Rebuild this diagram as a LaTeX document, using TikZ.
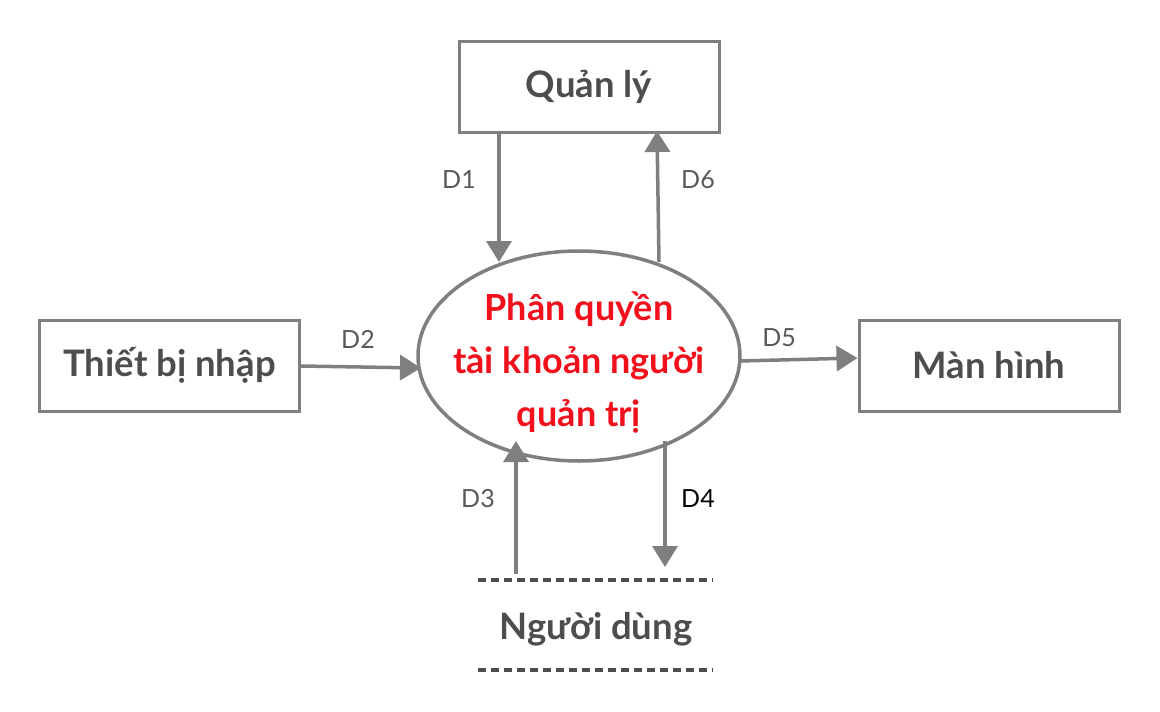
\documentclass[tikz,border=0pt]{standalone}
\usepackage{fontspec}
\setmainfont{Lato}
\usetikzlibrary{arrows.meta,shapes.geometric}
\definecolor{lg}{HTML}{7F7F7F}
\definecolor{tg}{HTML}{4D4D4D}
\definecolor{lb}{HTML}{595959}
\definecolor{rd}{HTML}{F2101C}
\tikzset{
  box/.style={draw=lg,line width=3pt,minimum width=260pt,minimum height=91pt,inner sep=0pt,
    text=tg,font=\fontsize{36.5}{42}\selectfont\bfseries},
  arr/.style={draw=lg,line width=3.5pt,-{Triangle[width=25pt,length=21pt]}},
  lbl/.style={text=lb,font=\fontsize{25}{30}\selectfont},
  dsh/.style={draw=tg,line width=3.5pt,dash pattern=on 8.5pt off 4.5pt}
}
\begin{document}
\begin{tikzpicture}[x=1pt,y=-1pt]
\useasboundingbox[fill=white] (0,0) rectangle (1160,712);
\node[box] (q) at (589,87) {Quản lý};
\node[box] (t) at (169.5,365.5) {Thiết bị nhập};
\node[box] (m) at (989,365.5) {Màn hình};
\node[ellipse,draw=lg,line width=3.5pt,minimum width=322pt,minimum height=210pt,inner sep=0pt] (e) at (579,356) {};
\node[text=rd,align=center,font=\fontsize{36}{53}\selectfont\bfseries,inner sep=0pt] (et) at (579,362)
  {Phân quyền\\tài khoản người\\quản trị};
\node[minimum width=234pt,minimum height=90pt,inner sep=0pt] (u) at (595,625) {};
\node[text=tg,font=\fontsize{36.5}{42}\selectfont\bfseries,inner sep=0pt] (ut) at (596,629) {Người dùng};
\draw[dsh] (u.north west) -- (u.north east);
\draw[dsh] (u.south west) -- (u.south east);
% coordinates on ellipse
\coordinate (e1) at (499,262);
\coordinate (e6) at (659,262);
\coordinate (e2) at (421,368);
\coordinate (e5) at (740,361);
\coordinate (e3) at (516,441);
\coordinate (e4) at (665,441);
\coordinate (u3) at (516,574);
\coordinate (u4) at (665,567);
\draw[arr] (q.south -| e1) -- (e1);
\draw[arr] (e6) -- (657,131);
\draw[arr] (t.east |- 0,366) -- (e2);
\draw[arr] (e5) -- (m.west |- 0,358);
\draw[arr] (u3) -- (e3);
\draw[arr] (e4) -- (u4);
\node[lbl] (l1) at (459,180) {D1};
\node[lbl] (l6) at (698,180) {D6};
\node[lbl] (l2) at (358,339) {D2};
\node[lbl] (l5) at (779,338) {D5};
\node[lbl] (l3) at (478,499) {D3};
\node[lbl,text=black] (l4) at (698,499) {D4};
\end{tikzpicture}
\end{document}
